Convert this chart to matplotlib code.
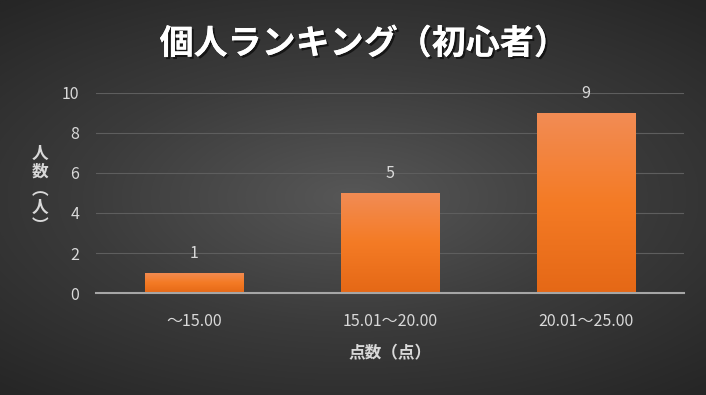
import numpy as np
import matplotlib.pyplot as plt
import matplotlib.patheffects as pe

plt.rcParams['font.family'] = ['Noto Sans CJK JP', 'DejaVu Sans']

# データ
categories = ['～15.00', '15.01～20.00', '20.01～25.00']
counts = [1, 5, 9]
title = '個人ランキング（初心者）'
xlabel = '点数（点）'
ylabel = '人\n数\n︵\n人\n︶'

fig = plt.figure(figsize=(7.06, 3.95), dpi=100)

# 背景（放射状グラデーション）
bg = fig.add_axes([0, 0, 1, 1], zorder=0)
yy, xx = np.mgrid[-1:1:400j, -1:1:720j]
r = np.sqrt((xx * 0.85) ** 2 + (yy * 1.0) ** 2)
bg.imshow(r, cmap=plt.matplotlib.colors.LinearSegmentedColormap.from_list(
    'bg', ['#575757', '#3b3b3b', '#262626']), vmin=0, vmax=1.3,
    extent=[0, 1, 0, 1], aspect='auto')
bg.set_axis_off()

ax = fig.add_axes([0.136, 0.258, 0.833, 0.507], zorder=1)
ax.patch.set_alpha(0)

x = np.arange(len(categories))
bars = ax.bar(x, counts, width=0.5, color='none', zorder=3)

# 棒のグラデーション
grad = np.linspace(0, 1, 256).reshape(-1, 1)
cmap_bar = plt.matplotlib.colors.LinearSegmentedColormap.from_list(
    'bar', ['#e56816', '#f47b25', '#f28c55'])
for b in bars:
    x0, y0, w, h = b.get_x(), b.get_y(), b.get_width(), b.get_height()
    im = ax.imshow(grad, cmap=cmap_bar, extent=[x0, x0 + w, y0, y0 + h],
                   origin='lower', aspect='auto', zorder=3)
    im.set_clip_path(b)

for xi, v in zip(x, counts):
    ax.text(xi, v + 0.55, str(v), ha='center', va='bottom',
            color='#d9d9d9', fontsize=11.5)

ax.set_xlim(-0.5, 2.5)
ax.set_ylim(0, 10)
ax.set_yticks([0, 2, 4, 6, 8, 10])
ax.set_xticks(x)
ax.set_xticklabels(categories)
ax.grid(axis='y', color='#5e5e5e', linewidth=0.8, zorder=0)
ax.set_axisbelow(True)
for s in ['top', 'right', 'left']:
    ax.spines[s].set_visible(False)
ax.spines['bottom'].set_color('#a6a6a6')
ax.spines['bottom'].set_linewidth(1.5)
ax.spines['bottom'].set_zorder(4)
ax.tick_params(axis='both', length=0, colors='#d9d9d9', labelsize=11.5)
ax.tick_params(axis='x', pad=14)
ax.tick_params(axis='y', pad=12)

ax.set_xlabel(xlabel, color='#d9d9d9', fontsize=12, fontweight='bold', labelpad=11)

fig.text(0.057, 0.52, ylabel, color='#d9d9d9', fontsize=12, fontweight='bold',
         ha='center', va='center', linespacing=1.0)

fig.text(0.515, 0.89, title, color='white', fontsize=24.5, fontweight='bold',
         ha='center', va='center',
         path_effects=[pe.withSimplePatchShadow(offset=(1.5, -1.5), shadow_rgbFace='black', alpha=0.6),
                       pe.Normal()])

fig.savefig('out.png', dpi=100)
